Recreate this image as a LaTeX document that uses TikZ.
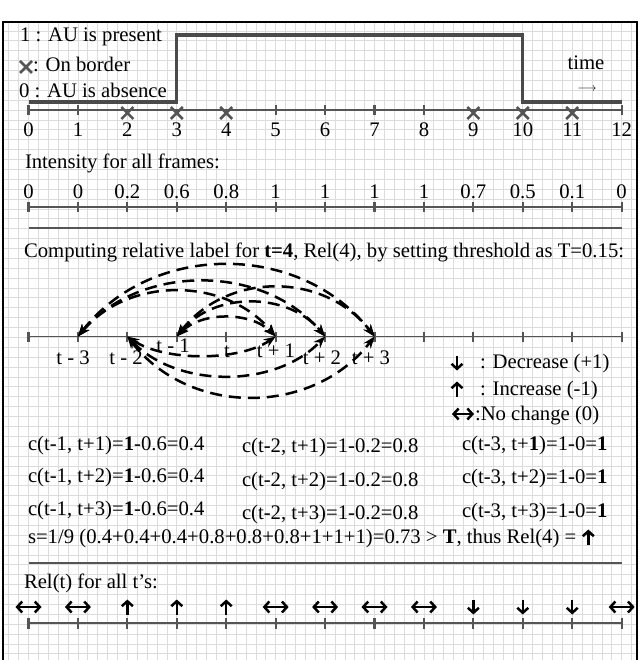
\documentclass[tikz,border=0pt]{standalone}
\usepackage{fontspec}
\setmainfont{Liberation Serif}
\usetikzlibrary{arrows.meta}
\definecolor{gridc}{HTML}{DCDCDC}
\definecolor{axisc}{HTML}{555555}
\definecolor{sigc}{HTML}{4A4A4A}
\tikzset{
  xmark/.pic={\draw[xmk] (-6,-6) -- (6,6) (-6,6) -- (6,-6);},
  uparr/.pic={\draw[sym,-{Straight Barb[length=5pt,width=11pt]}] (0,7.5) -- (0,-7.5);},
  dnarr/.pic={\draw[sym,-{Straight Barb[length=5pt,width=11pt]}] (0,-7.5) -- (0,7.5);},
  lrarr/.pic={\draw[sym,{Straight Barb[length=5pt,width=11pt]}-{Straight Barb[length=5pt,width=11pt]}] (-13,0) -- (13,0);},
}
\begin{document}
\begin{tikzpicture}[x=1pt,y=-1pt,
  every node/.style={font=\fontsize{20.7}{24}\selectfont, inner sep=0pt, outer sep=0pt},
  txt/.style={anchor=base west},
  val/.style={anchor=base},
  axis/.style={axisc, line width=1.3pt},
  tick/.style={axisc, line width=2.2pt},
  sep/.style={axisc, line width=1.3pt},
  signal/.style={sigc, line width=3.2pt},
  xmk/.style={axisc, line width=2.6pt},
  arc/.style={black, line width=2.5pt, dash pattern=on 12pt off 7pt,
    {Stealth[length=12pt,width=9pt]}-{Stealth[length=12pt,width=9pt]}},
  sym/.style={black, line width=2.5pt},
]
\useasboundingbox (0,0) rectangle (640,660);
% grid
\begin{scope}
  \clip (3,22) rectangle (637,660);
  \foreach \k in {-3,...,62} \draw[gridc, line width=0.7pt] ({28.5+\k*9.886},22) -- ({28.5+\k*9.886},660);
  \foreach \k in {-10,...,56} \draw[gridc, line width=0.7pt] (3,{110+\k*9.886}) -- (637,{110+\k*9.886});
\end{scope}
% frame
\draw[black, line width=2.6pt] (3,664) -- (3,22) -- (637,22) -- (637,664);

% ---- timeline 1
\foreach \i in {0,...,12} \coordinate (a\i) at ({28.5+\i*49.43},110);
\draw[signal] (28.5,102) -- (176.8,102) -- (176.8,35) -- (522.8,35) -- (522.8,102) -- (621.7,102);
\draw[axis] (a0) -- (a12);
\foreach \i in {0,1,5,6,7,8,12} \draw[tick] ([yshift=-5pt]a\i) -- ([yshift=5pt]a\i);
\foreach \i in {2,3,4,9,10,11} \pic at ([yshift=-3pt]a\i) {xmark};
\foreach \i in {0,...,12} \node[val] (n\i) at ({28.5+\i*49.43},137) {\i};
% legend
\node[txt] (l1) at (20,42) {1 : AU is present};
\pic at (26,67) {xmark};
\node[txt] (l2) at (33,72) {: On border};
\node[txt] (l3) at (19,98) {0 : AU is absence};
\node[val] (time) at (586,70) {time};
\node[font=\fontsize{12}{12}\selectfont] (tarr) at (587,89.5) {$\longrightarrow$};

% ---- intensity
\node[txt] (it) at (25,169) {Intensity for all frames:};
\foreach \i/\v in {0/0,1/0,2/0.2,3/0.6,4/0.8,5/1,6/1,7/1,8/1,9/0.7,10/0.5,11/0.1,12/0}
  \node[val] (v\i) at ({28.5+\i*49.43},198) {\v};
\foreach \i in {0,...,12} \coordinate (b\i) at ({28.5+\i*49.43},207);
\draw[axis] (b0) -- (b12);
\foreach \i in {0,...,12} \draw[tick] ([yshift=-5pt]b\i) -- ([yshift=5pt]b\i);
\coordinate (s1a) at (28.5,228); \coordinate (s1b) at (621.7,228);
\draw[sep] (s1a) -- (s1b);

% ---- relative label computation
\node[txt] (comp) at (24,257) {Computing relative label for \textbf{t=4}, Rel(4), by setting threshold as T=0.15:};
\foreach \i in {0,...,12} \coordinate (c\i) at ({28.5+\i*49.43},336.5);
\draw[axis] (c0) -- (c12);
\foreach \i in {0,...,12} \draw[tick] ([yshift=-5pt]c\i) -- ([yshift=5pt]c\i);
\node[val] (lm3) at (73,364) {t - 3};
\node[val] (lm2) at (126,364) {t - 2};
\node[val] (lm1) at (173,352) {t - 1};
\node[val] (lt)  at (227,357) {t};
\node[val] (lp1) at (276,357) {t + 1};
\node[val] (lp2) at (322,364) {t + 2};
\node[val] (lp3) at (371,364) {t + 3};
% arcs above
\draw[arc] (c1) .. controls +(74,-95) and +(-74,-95) .. (c7);
\draw[arc] (c1) .. controls +(62,-73) and +(-62,-73) .. (c6);
\draw[arc] (c1) .. controls +(50,-60) and +(-50,-60) .. (c5);
\draw[arc] (c3) .. controls +(50,-65) and +(-50,-65) .. (c7);
\draw[arc] (c3) .. controls +(37,-45) and +(-37,-45) .. (c6);
\draw[arc] (c3) .. controls +(25,-25) and +(-25,-25) .. (c5);
% arcs below
\draw[arc] (c2) .. controls +(37,25) and +(-37,25) .. (c5);
\draw[arc] (c2) .. controls +(50,52) and +(-50,52) .. (c6);
\draw[arc] (c2) .. controls +(62,80) and +(-62,80) .. (c7);
% right legend
\pic at (457,363) {dnarr};
\node[txt] (ld) at (480,368) {: Decrease (+1)};
\pic at (457,389) {uparr};
\node[txt] (li) at (480,395) {: Increase (-1)};
\pic[scale=0.85] at (463,414) {lrarr};
\node[txt] (ln) at (475,420) {:No change (0)};

% ---- formulas
\node[txt] (f11) at (28,450) {c(t-1, t+1)=\textbf{1}-0.6=0.4};
\node[txt] (f12) at (28,482) {c(t-1, t+2)=\textbf{1}-0.6=0.4};
\node[txt] (f13) at (28,515) {c(t-1, t+3)=\textbf{1}-0.6=0.4};
\node[txt] (f21) at (242,452) {c(t-2, t+1)=1-0.2=0.8};
\node[txt] (f22) at (242,486) {c(t-2, t+2)=1-0.2=0.8};
\node[txt] (f23) at (242,519) {c(t-2, t+3)=1-0.2=0.8};
\node[txt] (f31) at (462,450) {c(t-3, t+\textbf{1})=1-0=\textbf{1}};
\node[txt] (f32) at (462,483) {c(t-3, t+2)=1-0=\textbf{1}};
\node[txt] (f33) at (462,517) {c(t-3, t+3)=1-0=\textbf{1}};
\node[txt] (s) at (28,543) {s=1/9 (0.4+0.4+0.4+0.8+0.8+0.8+1+1+1)=0.73 > \textbf{T}, thus Rel(4) =};
\pic at ([xshift=12pt,yshift=6pt]s.base east) {uparr};
\coordinate (s2a) at (28.5,563); \coordinate (s2b) at (621.7,563);
\draw[sep] (s2a) -- (s2b);

% ---- Rel row
\node[txt] (rt) at (24,588) {Rel(t) for all t’s:};
\foreach \i in {0,...,12} \coordinate (d\i) at ({28.5+\i*49.43},623);
\draw[axis] (d0) -- (d12);
\foreach \i in {0,...,12} \draw[tick] ([yshift=-5.5pt]d\i) -- ([yshift=5.5pt]d\i);
\foreach \i/\p in {0/lrarr,1/lrarr,2/uparr,3/uparr,4/uparr,5/lrarr,6/lrarr,7/lrarr,8/lrarr,9/dnarr,10/dnarr,11/dnarr,12/lrarr}
  \pic at ({28.5+\i*49.43},607) {\p};
\end{tikzpicture}
\end{document}
